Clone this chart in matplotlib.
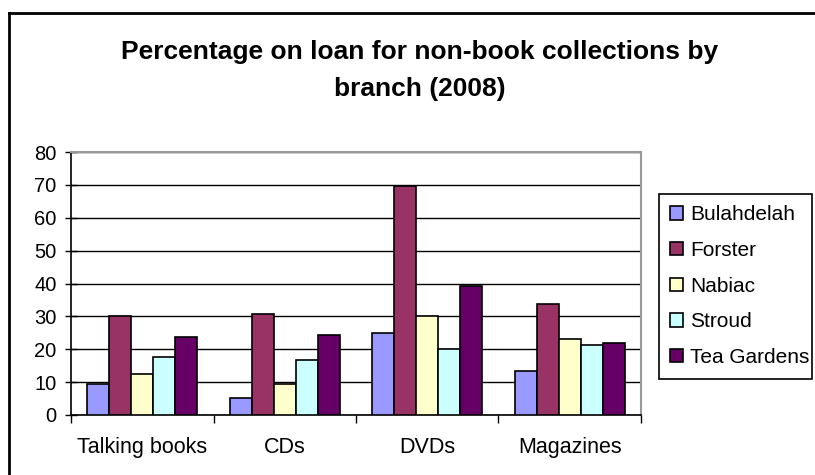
import numpy as np
import matplotlib.pyplot as plt
from matplotlib.lines import Line2D

plt.rcParams['font.family'] = ['Liberation Sans', 'DejaVu Sans']

categories = ['Talking books', 'CDs', 'DVDs', 'Magazines']
branches = ['Bulahdelah', 'Forster', 'Nabiac', 'Stroud', 'Tea Gardens']
bulahdelah = [9.3, 5.3, 24.9, 13.4]
forster = [30.0, 30.6, 69.7, 33.7]
nabiac = [12.4, 9.4, 30.0, 23.2]
stroud = [17.6, 16.6, 20.1, 21.2]
tea_gardens = [23.8, 24.3, 39.3, 21.8]
colours = ['#9999FF', '#993366', '#FFFFCC', '#CCFFFF', '#660066']

W, H = 815, 475
fig = plt.figure(figsize=(W / 100, H / 100), dpi=100)

# outer chart border (only left and top show inside the frame)
fig.add_artist(Line2D([9 / W, 9 / W], [0, 1 - 13 / H], color='black', lw=2))
fig.add_artist(Line2D([9 / W, 1], [1 - 13 / H, 1 - 13 / H], color='black', lw=2))

x0, x1, y0, y1 = 71, 641, 415, 152
ax = fig.add_axes([x0 / W, 1 - y0 / H, (x1 - x0) / W, (y0 - y1) / H])

series = [bulahdelah, forster, nabiac, stroud, tea_gardens]
n = len(series)
bw = 1 / (n + 1.5)
xs = np.arange(len(categories))
for i, (vals, col, name) in enumerate(zip(series, colours, branches)):
    ax.bar(xs - (n / 2 - 0.5 - i) * bw, vals, width=bw, color=col,
           edgecolor='black', linewidth=1.2, label=name, zorder=3)

ax.set_xlim(-0.5, len(categories) - 0.5)
ax.set_ylim(0, 80)
ax.set_yticks(np.arange(0, 81, 10))
ax.yaxis.grid(True, color='black', linewidth=1, zorder=0)
ax.set_xticks(np.arange(-0.5, len(categories)), minor=False)
ax.set_xticklabels([])
ax.set_xticks(xs, minor=True)
ax.set_xticklabels(categories, minor=True, fontsize=15.5)
ax.tick_params(axis='x', which='minor', length=0, pad=16)
ax.tick_params(axis='x', which='major', length=6, width=1, direction='out')
ax.tick_params(axis='y', length=9, width=1, direction='inout', labelsize=14.5, pad=6)

for s in ['top', 'right']:
    ax.spines[s].set_color('#999999')
    ax.spines[s].set_linewidth(1.5)
for s in ['left', 'bottom']:
    ax.spines[s].set_color('black')
    ax.spines[s].set_linewidth(1.2)

fig.text(420 / W, 1 - 52 / H, 'Percentage on loan for non-book collections by',
         ha='center', va='center', fontsize=19, fontweight='bold')
fig.text(420 / W, 1 - 89 / H, 'branch (2008)',
         ha='center', va='center', fontsize=19, fontweight='bold')

leg = ax.legend(loc='upper left', bbox_to_anchor=(659 / W, 1 - 194 / H, 153 / W, 1e-9),
                bbox_transform=fig.transFigure, mode='expand', fontsize=15,
                frameon=True, fancybox=False, edgecolor='black', framealpha=1,
                handlelength=0.6, handleheight=0.6, handletextpad=0.35,
                labelspacing=0.8, borderpad=0.55, borderaxespad=0)
leg.get_frame().set_linewidth(1.2)

fig.savefig('out.png', dpi=100)
